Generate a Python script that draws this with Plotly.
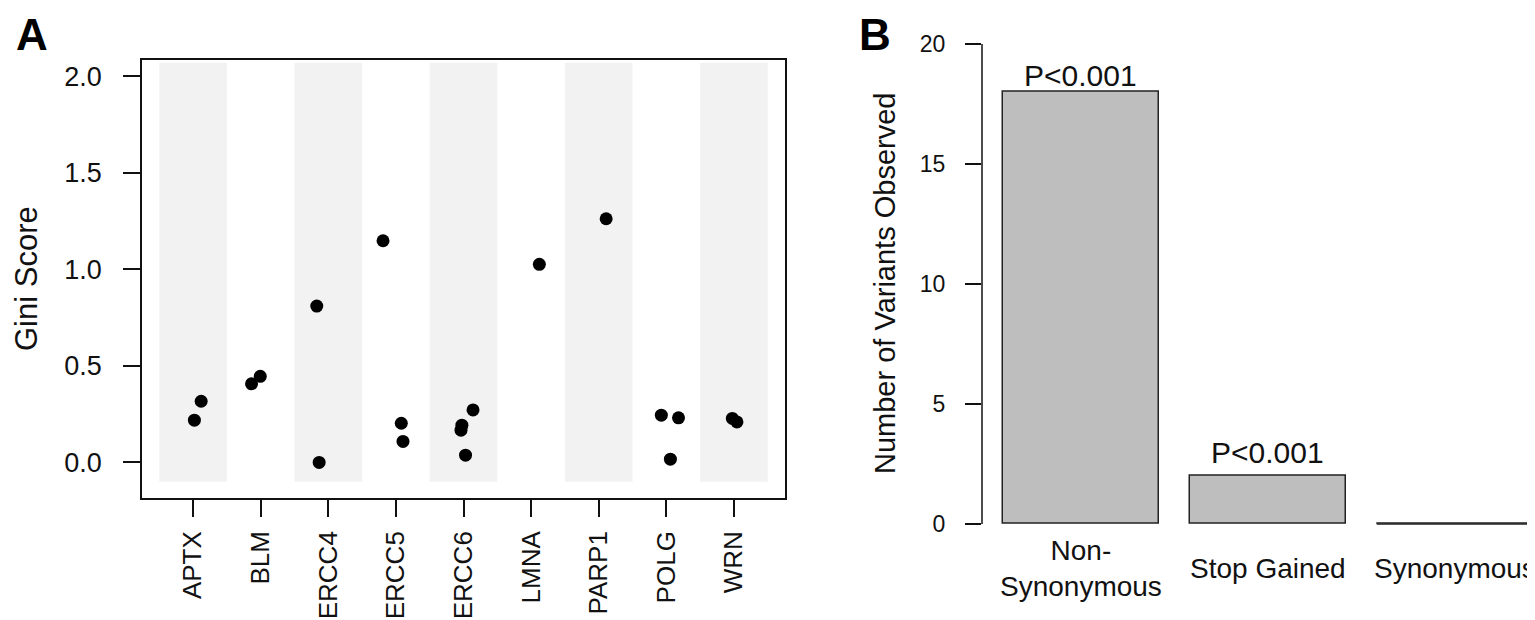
import plotly.graph_objects as go

# ---------------- Data ----------------
genes = ["APTX", "BLM", "ERCC4", "ERCC5", "ERCC6", "LMNA", "PARP1", "POLG", "WRN"]

point_gene = ["APTX", "APTX", "BLM", "BLM", "ERCC4", "ERCC4",
              "ERCC5", "ERCC5", "ERCC5",
              "ERCC6", "ERCC6", "ERCC6", "ERCC6",
              "LMNA", "PARP1", "POLG", "POLG", "POLG", "WRN", "WRN"]
point_jitter = [0.02, 0.12, -0.135, -0.006, -0.17, -0.135,
                -0.19, 0.08, 0.105,
                -0.024, -0.037, 0.141, 0.03,
                0.122, 0.11, -0.074, 0.18, 0.06, -0.024, 0.044]
point_gini = [0.219, 0.317, 0.407, 0.446, 0.81, 0.0,
              1.148, 0.203, 0.109,
              0.193, 0.167, 0.272, 0.038,
              1.026, 1.262, 0.245, 0.231, 0.017, 0.228, 0.21]

gini_ticks = [0.0, 0.5, 1.0, 1.5, 2.0]

variant_types = ["Non-Synonymous", "Stop Gained", "Synonymous"]
variant_labels = ["Non-<br>Synonymous", "Stop Gained", "Synonymous"]
variant_counts = [18, 2, 0]
variant_pvals = ["P<0.001", "P<0.001", ""]
count_ticks = [0, 5, 10, 15, 20]

# ---------------- Styling ----------------
FONT = "Liberation Sans, Arial, Helvetica, sans-serif"
INK = "#111111"
W, H = 1535, 620

def px_x(p):
    return p / W

def px_y(p):
    return (H - p) / H

fig = go.Figure()

# Panel A points
gene_pos = {g: i + 1 for i, g in enumerate(genes)}
xs = [gene_pos[g] + j for g, j in zip(point_gene, point_jitter)]
fig.add_trace(go.Scatter(
    x=xs, y=point_gini, mode="markers",
    marker=dict(color="black", size=13, line=dict(width=0)),
    xaxis="x", yaxis="y", showlegend=False, hoverinfo="skip"))

# Panel B bars
bar_w = 1 / 1.2
fig.add_trace(go.Bar(
    x=variant_types, y=variant_counts, width=bar_w,
    marker=dict(color="#bebebe", line=dict(color="#222222", width=1.5)),
    xaxis="x2", yaxis="y2", showlegend=False, hoverinfo="skip"))

shapes = []
# alternating grey bands in panel A
for i, g in enumerate(genes):
    if i % 2 == 0:
        shapes.append(dict(type="rect", xref="x", yref="y",
                           x0=i + 1 - 0.5, x1=i + 1 + 0.5, y0=-0.1, y1=2.07,
                           fillcolor="#f2f2f2", line=dict(width=0), layer="below"))
# zero-height bars drawn as outline lines
for i, v in enumerate(variant_counts):
    if v == 0:
        shapes.append(dict(type="line", xref="x2", yref="y2",
                           x0=i - bar_w / 2, x1=i + bar_w / 2, y0=v, y1=v,
                           line=dict(color="#222222", width=1.5)))
# panel B y-axis line spanning tick range only
shapes.append(dict(type="line", xref="x2 domain", yref="y2",
                   x0=0, x1=0, y0=min(count_ticks), y1=max(count_ticks),
                   line=dict(color=INK, width=1.5)))

annotations = []
# panel letters
annotations.append(dict(text="<b>A</b>", x=px_x(6), y=px_y(0), xref="paper", yref="paper",
                        xanchor="left", yanchor="top", showarrow=False,
                        font=dict(family=FONT, size=44, color="black")))
annotations.append(dict(text="<b>B</b>", x=px_x(849), y=px_y(0), xref="paper", yref="paper",
                        xanchor="left", yanchor="top", showarrow=False,
                        font=dict(family=FONT, size=44, color="black")))
# axis titles
annotations.append(dict(text="Gini Score", x=px_x(18), y=px_y(271), xref="paper", yref="paper",
                        xanchor="center", yanchor="middle", textangle=-90, showarrow=False,
                        font=dict(family=FONT, size=31, color=INK)))
annotations.append(dict(text="Number of Variants Observed", x=px_x(877), y=px_y(276),
                        xref="paper", yref="paper", xanchor="center", yanchor="middle",
                        textangle=-90, showarrow=False,
                        font=dict(family=FONT, size=29, color=INK)))
# p-value labels
p_shift = [16.5, 23.5, 20]
for i, (t, v, p) in enumerate(zip(variant_types, variant_counts, variant_pvals)):
    if p:
        annotations.append(dict(text=p, x=t, y=v, xref="x2", yref="y2",
                                xanchor="center", yanchor="middle", yshift=p_shift[i],
                                showarrow=False, font=dict(family=FONT, size=30, color=INK)))
# category labels
for t, lab in zip(variant_types, variant_labels):
    annotations.append(dict(text=lab, x=t, y=px_y(560), xref="x2", yref="paper",
                            xanchor="center", yanchor="middle", showarrow=False,
                            font=dict(family=FONT, size=28, color=INK)))

fig.update_layout(
    width=W, height=H,
    margin=dict(l=0, r=0, t=0, b=0),
    paper_bgcolor="white", plot_bgcolor="white",
    font=dict(family=FONT, color=INK),
    shapes=shapes, annotations=annotations,
    xaxis=dict(domain=[px_x(134), px_x(777)], range=[0.245, 9.755], anchor="y",
               tickmode="array", tickvals=list(range(1, len(genes) + 1)), ticktext=genes,
               tickangle=-90, ticks="outside", ticklen=17, tickwidth=1.5, tickcolor=INK,
               tickfont=dict(family=FONT, size=26, color=INK), ticklabelstandoff=4,
               showline=True, linecolor=INK, linewidth=1.5, mirror=True,
               showgrid=False, zeroline=False, fixedrange=True),
    yaxis=dict(domain=[px_y(490), px_y(52)], range=[-0.184, 2.084], anchor="x",
               tickmode="array", tickvals=gini_ticks,
               ticktext=[f"{v:.1f}" for v in gini_ticks],
               ticks="outside", ticklen=17, tickwidth=1.5, tickcolor=INK,
               tickfont=dict(family=FONT, size=27, color=INK), ticklabelstandoff=16,
               showline=True, linecolor=INK, linewidth=1.5, mirror=True,
               showgrid=False, zeroline=False, fixedrange=True),
    xaxis2=dict(domain=[px_x(974), 1.0], range=[-0.529, 2.473], type="category",
                anchor="y2",
                showticklabels=False, ticks="", showline=False, showgrid=False,
                zeroline=False, fixedrange=True),
    yaxis2=dict(domain=[px_y(535.2), px_y(16.8)], range=[-0.8, 20.8], anchor="x2",
                tickmode="array", tickvals=count_ticks,
                ticks="outside", ticklen=16, tickwidth=1.5, tickcolor=INK,
                tickfont=dict(family=FONT, size=23, color=INK), ticklabelstandoff=15,
                showline=False, showgrid=False, zeroline=False, fixedrange=True),
    bargap=0,
)

fig.write_html("out.html")
